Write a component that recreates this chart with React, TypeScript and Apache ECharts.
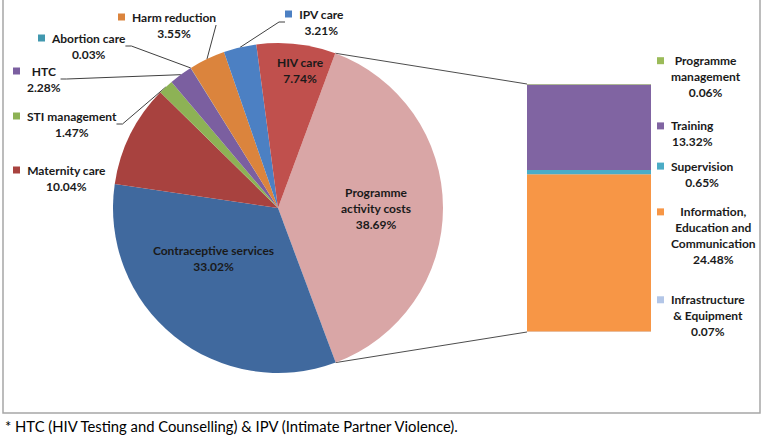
import React, { useEffect, useRef } from "react";
import * as echarts from "echarts";

// ---- data ----
const pieNames = [
  "Programme activity costs",
  "Contraceptive services",
  "Maternity care",
  "STI management",
  "HTC",
  "Abortion care",
  "Harm reduction",
  "IPV care",
  "HIV care",
];
const pieValues = [38.69, 33.02, 10.04, 1.47, 2.28, 0.03, 3.55, 3.21, 7.74];
const pieLabelText = [
  "Programme\nactivity costs",
  "Contraceptive services",
  "Maternity care",
  "STI management",
  "HTC",
  "Abortion care",
  "Harm reduction",
  "IPV care",
  "HIV care",
];
const pieInside = [true, true, false, false, false, false, false, false, true];
const pieLeader = [false, false, false, true, true, true, true, true, false];

const barNames = [
  "Programme management",
  "Training",
  "Supervision",
  "Information, Education and Communication",
  "Infrastructure & Equipment",
];
const barLabelText = [
  "Programme\nmanagement",
  "Training",
  "Supervision",
  "Information,\nEducation and\nCommunication",
  "Infrastructure\n& Equipment",
];
const barValues = [0.06, 13.32, 0.65, 24.48, 0.07];

const footnote = "* HTC (HIV Testing and Counselling) & IPV (Intimate Partner Violence).";

// ---- styles / layout ----
const pieColors = ["#D9A6A6", "#40699E", "#A8423F", "#8DB255", "#7B5FA0", "#4198AF", "#DB843D", "#4C80C3", "#C0504D"];
const barColors = ["#9BBB59", "#8064A2", "#4BACC6", "#F79646", "#B3C6E7"];
const FONT = "Lato, 'Open Sans', sans-serif";
const TEXT_COLOR = "#1A1A1A";
const PIE_CENTER = [278, 208];
const PIE_RADIUS = 165;
const PIE_START = 69.7;
const GRID = { left: 527, top: 84, width: 124, height: 248 };
const pieLabelSpots: [number, number][] = [
  [376, 208],
  [213.5, 258],
  [13, 178],
  [13, 124],
  [13, 79],
  [38, 46],
  [118, 25],
  [285, 22],
  [300, 70],
];
const barLabelDy = [-7.5, 6.7, 2, -17, -16];

function richFor(color: string, withMarker: boolean) {
  const t = {
    fontFamily: FONT,
    fontSize: 12,
    fontWeight: "bold",
    color: TEXT_COLOR,
    lineHeight: 16,
    align: "center",
  };
  if (!withMarker) return { t };
  return {
    m: { width: 7, height: 7, backgroundColor: color, align: "left", lineHeight: 16 },
    h: { width: 7, height: 7, align: "left", lineHeight: 16 },
    g: { width: 7, align: "left", lineHeight: 16 },
    t,
  };
}

function fmt(text: string, value: number, withMarker: boolean) {
  const lines = text.split("\n").concat([value.toFixed(2) + "%"]);
  return lines
    .map((l, i) => (withMarker ? `{${i === 0 ? "m" : "h"}| }{g| }{t|${l}}` : `{t|${l}}`))
    .join("\n");
}

export default function App() {
  const ref = useRef<HTMLDivElement>(null);
  useEffect(() => {
    if (!ref.current) return;
    const chart = echarts.init(ref.current, undefined, { renderer: "svg" });

    const pieData = pieNames.map((name, i) => ({
      name,
      value: pieValues[i],
      itemStyle: { color: pieColors[i] },
      label: {
        position: pieInside[i] ? "inside" : "outside",
        formatter: () => fmt(pieLabelText[i], pieValues[i], !pieInside[i]),
        rich: richFor(pieColors[i], !pieInside[i]),
      },
      labelLine: { show: pieLeader[i] },
    }));

    const stackOrder = [4, 3, 2, 1, 0]; // bottom to top
    const barSeries = stackOrder.map((i) => ({
      type: "bar",
      name: barNames[i],
      stack: "pac",
      barWidth: "100%",
      data: [barValues[i]],
      itemStyle: { color: barColors[i] },
      label: {
        show: true,
        position: "right",
        distance: 6,
        align: "left",
        verticalAlign: "middle",
        offset: [0, barLabelDy[i]],
        formatter: () => fmt(barLabelText[i], barValues[i], true),
        rich: richFor(barColors[i], true),
      },
    }));

    const barTotal = barValues.reduce((a, b) => a + b, 0);

    chart.setOption({
      animation: false,
      title: {
        text: footnote,
        left: 5,
        top: 418,
        padding: 0,
        textStyle: { fontFamily: FONT, fontSize: 14.8, fontWeight: "normal", color: "#000" },
      },
      grid: { left: GRID.left, top: GRID.top, width: GRID.width, height: GRID.height },
      xAxis: { type: "category", data: ["Programme activity costs"], show: false },
      yAxis: { type: "value", min: 0, max: barTotal, show: false },
      series: [
        {
          type: "pie",
          center: PIE_CENTER,
          radius: PIE_RADIUS,
          startAngle: PIE_START,
          clockwise: true,
          avoidLabelOverlap: false,
          itemStyle: { borderWidth: 0 },
          label: { show: true, fontFamily: FONT },
          labelLine: { length: 5, length2: 6, lineStyle: { color: "#404040", width: 1 } },
          labelLayout: (p: any) => {
            const [x, y] = pieLabelSpots[p.dataIndex];
            return {
              x,
              y,
              align: pieInside[p.dataIndex] ? "center" : "left",
              verticalAlign: "middle",
            };
          },
          data: pieData,
        },
        ...barSeries,
      ],
      graphic: [
        {
          type: "rect",
          id: "frame",
          shape: { x: 3, y: -5, width: 757, height: 418 },
          style: { fill: "none", stroke: "#A6A6A6", lineWidth: 1.5 },
          silent: true,
        },
      ],
    });

    // connector lines from the pie's exploded slice edges to the bar corners
    const pieSum = pieValues.reduce((a, b) => a + b, 0);
    const a1 = (PIE_START * Math.PI) / 180;
    const a2 = ((PIE_START - (360 * pieValues[0]) / pieSum) * Math.PI) / 180;
    const p1 = [PIE_CENTER[0] + PIE_RADIUS * Math.cos(a1), PIE_CENTER[1] - PIE_RADIUS * Math.sin(a1)];
    const p2 = [PIE_CENTER[0] + PIE_RADIUS * Math.cos(a2), PIE_CENTER[1] - PIE_RADIUS * Math.sin(a2)];
    const topPt = chart.convertToPixel({ gridIndex: 0 }, [0, barTotal]) as number[];
    const botPt = chart.convertToPixel({ gridIndex: 0 }, [0, 0]) as number[];
    const lineStyle = { stroke: "#4D4D4D", lineWidth: 1 };
    chart.setOption({
      graphic: [
        {
          type: "line",
          id: "c1",
          shape: { x1: p1[0], y1: p1[1], x2: GRID.left, y2: topPt[1] },
          style: lineStyle,
          silent: true,
        },
        {
          type: "line",
          id: "c2",
          shape: { x1: p2[0], y1: p2[1], x2: GRID.left, y2: botPt[1] },
          style: lineStyle,
          silent: true,
        },
      ],
    });

    return () => chart.dispose();
  }, []);

  return (
    <div
      ref={ref}
      style={{ position: "fixed", left: 0, top: 0, width: 764, height: 447, background: "#fff" }}
    />
  );
}
